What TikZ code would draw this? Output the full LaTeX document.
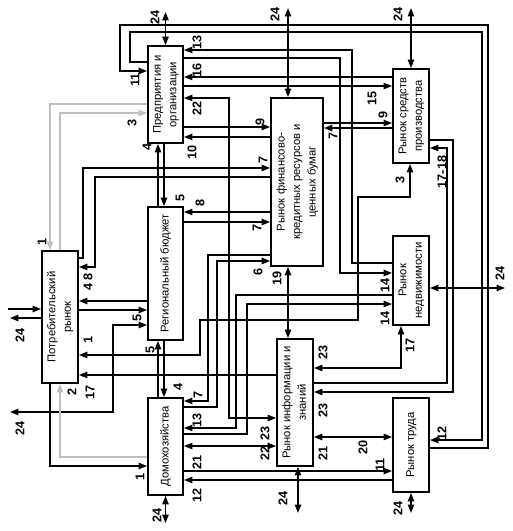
\documentclass[tikz,border=0pt]{standalone}
\usepackage{fontspec}
\setmainfont{Liberation Sans}
\usepackage{graphicx}
\usetikzlibrary{arrows.meta}

\newcommand{\uptext}[1]{\rotatebox{90}{\begin{tabular}{@{}c@{}}#1\end{tabular}}}

\tikzset{
  market/.style={draw, line width=1.3pt, inner sep=0pt, fill=white, font=\fontsize{8}{11}\selectfont},
  num/.style={font=\fontsize{9}{9}\selectfont\bfseries, rotate=90, inner sep=0pt},
  flow/.style={line width=1.1pt, -{Triangle[length=6pt,width=4.5pt]}},
  both/.style={line width=1.1pt, {Triangle[length=6pt,width=4.5pt]}-{Triangle[length=6pt,width=4.5pt]}},
  pale/.style={gray!50, line width=0.8pt, -{Triangle[length=6pt,width=4.5pt]}}
}

\begin{document}
\begin{tikzpicture}[x=0.25mm, y=-0.25mm]
        \useasboundingbox (0,0) rectangle (512,531);

        % Draw nodes
        \node[market, minimum width=8.75mm, minimum height=24.25mm] (ent) at (165.5,94.5) {\uptext{Предприятия и\\организации}};
        \node[market, minimum width=13mm, minimum height=42mm] (fin) at (297,182) {\uptext{Рынок финансово-\\кредитных ресурсов и\\ценных бумаг}};
        \node[market, minimum width=9mm, minimum height=23.5mm] (prod) at (411,116) {\uptext{Рынок средств\\производства}};
        \node[market, minimum width=8.75mm, minimum height=33.25mm] (bud) at (165.5,273.5) {\uptext{Региональный бюджет}};
        \node[market, minimum width=9mm, minimum height=33mm] (cons) at (60,317) {\uptext{Потребительский\\рынок}};
        \node[market, minimum width=9mm, minimum height=22.25mm] (real) at (411,280.5) {\uptext{Рынок\\недвижимости}};
        \node[market, minimum width=9mm, minimum height=31.75mm] (info) at (295,402.5) {\uptext{Рынок информации и\\знаний}};
        \node[market, minimum width=8.75mm, minimum height=24.25mm] (home) at (165.5,446.5) {\uptext{Домохозяйства}};
        \node[market, minimum width=9mm, minimum height=23.5mm] (lab) at (411,445) {\uptext{Рынок труда}};

        % Outer world ends
        \coordinate (ent24) at (165.5,12);
        \coordinate (fin24) at (288,8);
        \coordinate (prod24) at (411,8);
        \coordinate (real24) at (505,288);
        \coordinate (info24) at (298,513);
        \coordinate (lab24) at (411,513);
        \coordinate (home24) at (165.5,523);
        \coordinate (consin) at (8,309);
        \coordinate (consout) at (10,318);
        \coordinate (bud24) at (10,412);

        % Draw connections with the outer world
        \draw[both] (ent.north) -- (ent24);
        \draw[both] (fin.north -| fin24) -- (fin24);
        \draw[both] (prod.north) -- (prod24);
        \draw[both] (real.east |- real24) -- (real24);
        \draw[both] (info.south -| info24) -- (info24);
        \draw[both] (lab.south) -- (lab24);
        \draw[both] (home.south) -- (home24);
        \draw[flow] (consin) -- (cons.west |- consin);
        \draw[flow] (cons.west |- consout) -- (consout);
        \draw[both] (bud24) -| (113,325) -- (bud.west |- 0,325);

        % Draw connections
        \draw[flow] (lab.east |- 0,448) -| (488,25) -| (120,71) -- (ent.west |- 0,71);
        \draw[flow] (ent.west |- 0,62) -| (130,32) -| (482,440) -- (lab.east |- 0,440);
        \draw[flow] (real.west |- 0,263) -| (352,50) -- (ent.east |- 0,50);
        \draw[flow] (ent.east |- 0,58) -| (340,273) -- (real.west |- 0,273);
        \draw[flow] (prod.west |- 0,77) -- (ent.east |- 0,77);
        \draw[flow] (ent.east |- 0,86) -- (prod.west |- 0,86);
        \draw[both] (ent.east |- 0,98) -| (229,418) -- (info.west |- 0,418);
        \draw[flow] (ent.east |- 0,127) -- (fin.west |- 0,127);
        \draw[flow] (fin.west |- 0,137) -- (ent.east |- 0,137);
        \draw[flow] (bud.north -| 158,0) -- (ent.south -| 158,0);
        \draw[flow] (ent.south -| 164,0) -- (bud.north -| 164,0);
        \draw[flow] (home.north -| 158,0) -- (bud.south -| 158,0);
        \draw[flow] (bud.south -| 164,0) -- (home.north -| 164,0);
        \draw[pale] (ent.west |- 0,104) -| (cons.north -| 50,0);
        \draw[pale] (cons.north -| 60,0) |- (ent.west |- 0,113);
        \draw[pale] (home.west |- 0,457) -| (cons.south -| 60,0);
        \draw[flow] (cons.south -| 50,0) |- (home.west |- 0,466);
        \draw[flow] (cons.east |- 0,258) -| (83,168) -- (fin.west |- 0,168);
        \draw[flow] (fin.west |- 0,177) -| (95,267) -- (cons.east |- 0,267);
        \draw[flow] (bud.west |- 0,301) -- (cons.east |- 0,301);
        \draw[flow] (cons.east |- 0,310) -- (bud.west |- 0,310);
        \draw[flow] (fin.west |- 0,212) -- (bud.east |- 0,212);
        \draw[flow] (bud.east |- 0,222) -- (fin.west |- 0,222);
        \draw[flow] (fin.west |- 0,255) -| (208,401) -- (home.east |- 0,401);
        \draw[flow] (home.east |- 0,407) -| (217,261) -- (fin.west |- 0,261);
        \draw[flow] (real.west |- 0,295) -| (236,428) -- (home.east |- 0,428);
        \draw[flow] (home.east |- 0,434) -| (247,304) -- (real.west |- 0,304);
        \draw[both] (fin.south -| 288,0) -- (info.north -| 288,0);
        \draw[flow] (info.west |- 0,375) -- (cons.east |- 0,375);
        \draw[both] (cons.east |- 0,355) -| (200,320) -| (358,197) -| (prod.south -| 410,0);
        \draw[both] (home.east |- 0,446) -- (info.west |- 0,446);
        \draw[flow] (home.east |- 0,471) -- (lab.west |- 0,471);
        \draw[flow] (lab.west |- 0,480) -- (home.east |- 0,480);
        \draw[both] (info.east |- 0,437) -- (lab.west |- 0,437);
        \draw[both] (info.east |- 0,368) -| (real.south -| 401,0);
        \draw[flow] (info.east |- 0,383) -| (447,148) -- (prod.east |- 0,148);
        \draw[flow] (prod.east |- 0,140) -| (453,392) -- (info.east |- 0,392);
        \draw[flow] (fin.east |- 0,123) -- (prod.west |- 0,123);
        \draw[flow] (prod.west |- 0,128) -- (fin.east |- 0,128);

        % Flow numbers
        \foreach \t/\x/\y [count=\k] in {24/155/17, 24/275/14, 24/398/14, 24/500/273, 24/20/335, 24/20/428,
            24/283/498, 24/157/515, 24/398/508, 11/135/80, 13/197/42, 16/197/70, 22/197/108, 3/132/123,
            4/147/147, 10/192/152, 9/260/122, 7/263/160, 5/180/198, 8/200/203, 7/257/228, 6/258/272,
            19/277/278, 1/42/242, 4 8/88/282, 1/88/340, 5/137/318, 2/72/392, 17/90/392, 5/150/350,
            4/178/387, 7/198/395, 13/197/420, 21/197/462, 1/140/477, 12/197/495, 23/265/433, 22/265/453,
            15/372/98, 9/383/115, 7/333/136, 3/400/180, 17-18/442/172, 14/385/285, 14/385/318, 17/410/345,
            23/323/352, 23/323/410, 21/323/453, 20/363/447, 11/380/465, 12/442/433}
            \node[num] (n\k) at (\x,\y) {\t};
\end{tikzpicture}
\end{document}
